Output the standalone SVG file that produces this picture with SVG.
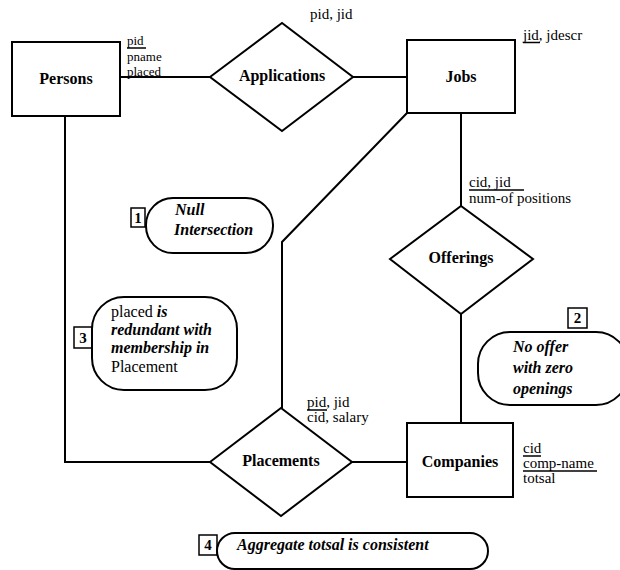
<svg xmlns="http://www.w3.org/2000/svg" width="620" height="570" viewBox="0 0 620 570" font-family="Liberation Serif, DejaVu Serif, serif">
<style>
.shape{fill:#fff;stroke:#000;stroke-width:2}
.conn{fill:none;stroke:#000;stroke-width:2}
.ul{stroke:#000;stroke-width:1.5}
.name{font-size:16px;font-weight:bold;fill:#000;text-anchor:middle}
.attr{font-size:15px;fill:#000}
.sattr{font-size:13px;fill:#000}
.note{font-size:16px;font-style:italic;font-weight:bold;fill:#000}
.up{font-style:normal;font-weight:normal}
.num{font-size:15px;font-weight:bold;fill:#000;text-anchor:middle}
.tag{fill:#fff;stroke:#000;stroke-width:1.5}
</style>
<rect width="620" height="570" fill="#fff"/>
<g id="connectors">
<path class="conn" d="M120,77 H210"/>
<path class="conn" d="M353,77 H407"/>
<path class="conn" d="M65,116 V462 H210"/>
<path class="conn" d="M407,113 L282,242 V408"/>
<path class="conn" d="M461,113 V206"/>
<path class="conn" d="M461,314 V423"/>
<path class="conn" d="M352,462 H407"/>
</g>
<g id="persons">
<rect class="shape" x="12" y="42" width="108" height="74"/>
<text class="name" x="66" y="84">Persons</text>
<text class="sattr" x="127" y="45">pid</text>
<line class="ul" x1="127" y1="48" x2="146" y2="48"/>
<text class="sattr" x="127" y="61">pname</text>
<text class="sattr" x="127" y="76">placed</text>
</g>
<g id="applications">
<path class="shape" d="M210,77 L282,23 L353,77 L282,131 Z"/>
<text class="name" x="282" y="81">Applications</text>
<text class="attr" x="310" y="19">pid, jid</text>
</g>
<g id="jobs">
<rect class="shape" x="407" y="40" width="108" height="73"/>
<text class="name" x="461" y="82">Jobs</text>
<text class="attr" x="523" y="40">jid, jdescr</text>
<line class="ul" x1="523" y1="42.5" x2="540" y2="42.5"/>
</g>
<g id="offerings">
<path class="shape" d="M390,259 L461,206 L533,259 L461,314 Z"/>
<text class="name" x="461" y="263">Offerings</text>
<text class="attr" x="469" y="187">cid, jid</text>
<line class="ul" x1="469" y1="190" x2="524" y2="190"/>
<text class="attr" x="469" y="203">num-of positions</text>
</g>
<g id="placements">
<path class="shape" d="M210,462 L281,408 L352,462 L281,516 Z"/>
<text class="name" x="281" y="466">Placements</text>
<text class="attr" x="307" y="407">pid, jid</text>
<line class="ul" x1="307" y1="410" x2="327" y2="410"/>
<text class="attr" x="307" y="422">cid, salary</text>
</g>
<g id="companies">
<rect class="shape" x="407" y="423" width="106" height="74"/>
<text class="name" x="460" y="467">Companies</text>
<text class="attr" x="523" y="453">cid</text>
<line class="ul" x1="523" y1="456" x2="541" y2="456"/>
<text class="attr" x="523" y="468">comp-name</text>
<line class="ul" x1="523" y1="471" x2="597" y2="471"/>
<text class="attr" x="523" y="483">totsal</text>
</g>
<g id="note1">
<rect class="tag" x="131" y="208" width="14" height="19"/>
<text class="num" x="138" y="223">1</text>
<rect class="shape" x="146" y="198" width="127" height="55" rx="27" ry="27"/>
<text class="note" x="175" y="215">Null</text>
<text class="note" x="174" y="235">Intersection</text>
</g>
<g id="note2">
<rect class="tag" x="568" y="308" width="19" height="20"/>
<text class="num" x="577.5" y="323">2</text>
<rect class="shape" x="478" y="332" width="150" height="73" rx="32" ry="32"/>
<text class="note" x="513" y="352">No offer</text>
<text class="note" x="513" y="373">with zero</text>
<text class="note" x="513" y="394">openings</text>
</g>
<g id="note3">
<rect class="tag" x="74" y="327" width="18" height="21"/>
<text class="num" x="83" y="343">3</text>
<rect class="shape" x="92" y="297" width="145" height="93" rx="32" ry="32"/>
<text class="note" x="111" y="317"><tspan class="up">placed</tspan> is</text>
<text class="note" x="111" y="335">redundant with</text>
<text class="note" x="111" y="353">membership in</text>
<text class="note up" x="111" y="372">Placement</text>
</g>
<g id="note4">
<rect class="tag" x="199" y="535" width="18" height="20"/>
<text class="num" x="208" y="550">4</text>
<rect class="shape" x="217" y="533" width="271" height="36" rx="18" ry="18"/>
<text class="note" x="237" y="550">Aggregate totsal is consistent</text>
</g>
</svg>
